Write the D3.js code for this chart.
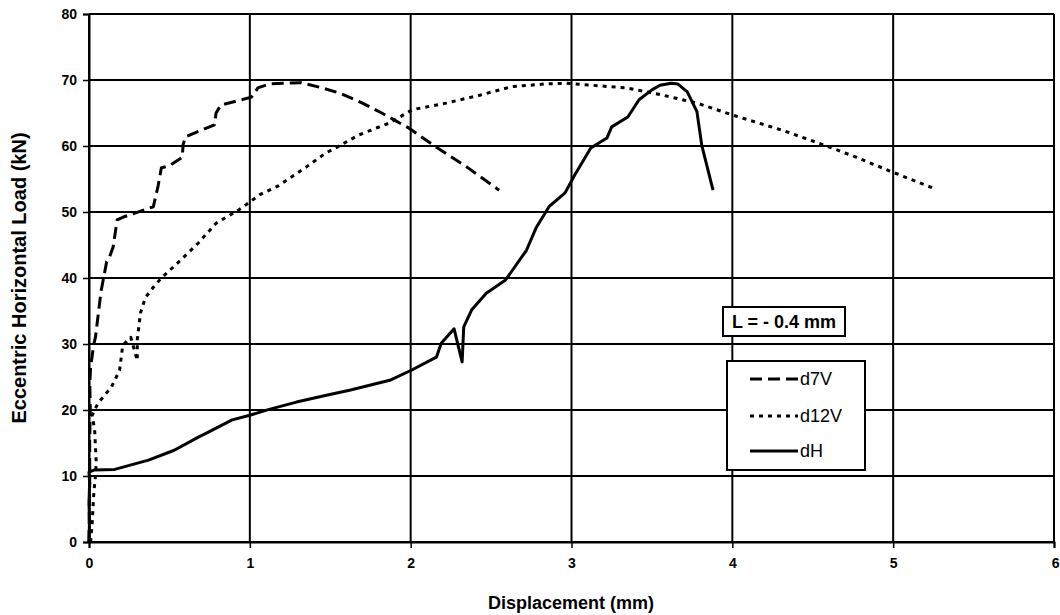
<!DOCTYPE html>
<html><head><meta charset="utf-8">
<script src="https://cdn.jsdelivr.net/npm/d3@7"></script>
<style>body{margin:0;background:#fff;}svg{display:block;}text{font-family:"Liberation Sans",Arial,sans-serif;}</style>
</head><body>
<svg id="c" width="1060" height="615"></svg>
<script>
const xTicks = [0,1,2,3,4,5,6];
const yTicks = [0,10,20,30,40,50,60,70,80];

const d7V = [[0,0],[0.002,5],[0.005,10],[0.004,15],[0.008,20],[0.005,24],[0.01,26.5],[0.03,30],[0.04,31],[0.06,35],[0.075,38],[0.11,42.5],[0.125,43],[0.15,44.7],[0.175,48.8],[0.21,49.2],[0.4,50.8],[0.43,54],[0.45,56.7],[0.5,57],[0.58,58.3],[0.585,60.2],[0.6,61.4],[0.78,63.2],[0.79,65],[0.82,66.2],[1.01,67.4],[1.05,68.8],[1.12,69.4],[1.32,69.6],[1.45,68.8],[1.56,68],[1.7,66.5],[1.82,65],[1.99,62.7],[2.16,59.8],[2.35,56.8],[2.55,53.3]];

const d12V = [[0.01,0],[0.02,3],[0.03,7.4],[0.04,10],[0.045,12],[0.035,17],[0.02,19.2],[0.055,21],[0.14,23.5],[0.17,25],[0.19,26],[0.21,29.8],[0.26,31],[0.3,27.5],[0.3,30.6],[0.32,34.7],[0.35,37],[0.4,38.6],[0.45,40],[0.57,42.7],[0.68,45.3],[0.79,48.3],[0.93,50.3],[1.0,51.5],[1.06,52.6],[1.18,54],[1.35,56.8],[1.47,58.9],[1.54,59.8],[1.68,61.7],[1.87,63.5],[2.01,65.5],[2.22,66.5],[2.43,67.7],[2.63,69],[2.84,69.4],[2.97,69.5],[3.13,69.2],[3.34,68.8],[3.55,67.8],[3.78,66.5],[4.0,64.7],[4.31,62.4],[4.62,59.7],[4.77,58.3],[4.98,56.2],[5.25,53.6]];

const dH = [[0,0],[0.003,3],[0.0,6],[0.004,9],[0.0,10.6],[0.03,10.9],[0.16,11],[0.37,12.4],[0.53,13.9],[0.68,15.9],[0.73,16.5],[0.89,18.5],[1.0,19.2],[1.12,20.1],[1.29,21.2],[1.49,22.3],[1.62,23],[1.87,24.5],[2.01,26.1],[2.16,28],[2.19,30.1],[2.27,32.3],[2.32,27.3],[2.33,32.6],[2.38,35.2],[2.47,37.7],[2.59,39.7],[2.72,44.2],[2.78,47.6],[2.86,50.8],[2.96,52.9],[3.02,55.6],[3.12,59.7],[3.22,61.2],[3.25,62.9],[3.35,64.4],[3.42,67],[3.5,68.5],[3.55,69.2],[3.62,69.5],[3.66,69.4],[3.72,68.2],[3.78,65.2],[3.81,60.1],[3.88,53.3]];

const seriesNames = ["d7V","d12V","dH"];
const seriesData = [d7V, d12V, dH];
const dashes = ["12,6","4,5",null];

const svg = d3.select("#c");
const L = 89, R = 1054, T = 14, B = 542;
const x = d3.scaleLinear().domain([0,6]).range([L,R]);
const y = d3.scaleLinear().domain([0,80]).range([B,T]);

// gridlines
svg.append("g").selectAll("line").data(yTicks).join("line")
  .attr("x1",L).attr("x2",R).attr("y1",d=>y(d)).attr("y2",d=>y(d))
  .attr("stroke","#000").attr("stroke-width",2);
svg.append("g").selectAll("line").data(xTicks).join("line")
  .attr("y1",T).attr("y2",B).attr("x1",d=>x(d)).attr("x2",d=>x(d))
  .attr("stroke","#000").attr("stroke-width",2);

// axes
const yAxis = d3.axisLeft(y).tickValues(yTicks).tickFormat(d3.format("d")).tickSize(6).tickPadding(6);
const gy = svg.append("g").attr("transform",`translate(${L},0)`).call(yAxis);
const xAxis = d3.axisBottom(x).tickValues(xTicks).tickFormat(d3.format("d")).tickSize(6).tickPadding(10);
const gx = svg.append("g").attr("transform",`translate(0,${B})`).call(xAxis);
[gx,gy].forEach(g=>{
  g.attr("font-size",null).attr("font-family",null);
  g.select(".domain").attr("stroke","#000").attr("stroke-width",2);
  g.selectAll(".tick line").attr("stroke","#000").attr("stroke-width",1.5);
  g.selectAll("text").style("font-size","14px").style("font-weight","bold").attr("fill","#000")
    .style("font-family","'Liberation Sans',Arial,sans-serif");
});
gx.selectAll(".tick").filter(d=>d===6).select("text").attr("text-anchor","end").attr("dx","5");

// lines
const line = d3.line().x(d=>x(d[0])).y(d=>y(d[1]));
seriesData.forEach((data,i)=>{
  svg.append("path").datum(data).attr("d",line)
    .attr("fill","none").attr("stroke","#000").attr("stroke-width",3)
    .attr("stroke-linejoin","round")
    .attr("stroke-dasharray",dashes[i]);
});

// annotation box
const ann = svg.append("g");
ann.append("rect").attr("x",723).attr("y",307).attr("width",122).attr("height",29)
  .attr("fill","#fff").attr("stroke","#000").attr("stroke-width",2);
ann.append("text").attr("x",784).attr("y",328).attr("text-anchor","middle")
  .style("font-size","18px").attr("font-weight","bold").text("L = - 0.4 mm");

// legend
const lg = svg.append("g");
lg.append("rect").attr("x",727).attr("y",361).attr("width",138).attr("height",109)
  .attr("fill","#fff").attr("stroke","#000").attr("stroke-width",2);
const ly = [379,416,451];
seriesNames.forEach((n,i)=>{
  lg.append("line").attr("x1",750).attr("x2",798).attr("y1",ly[i]).attr("y2",ly[i])
    .attr("stroke","#000").attr("stroke-width",3).attr("stroke-dasharray",dashes[i]);
  lg.append("text").attr("x",800).attr("y",ly[i]+6).style("font-size","18px").text(n);
});

// axis titles
svg.append("text").attr("x",571).attr("y",609).attr("text-anchor","middle")
  .style("font-size","18px").attr("font-weight","bold").text("Displacement (mm)");
svg.append("text").attr("transform","translate(26,278) rotate(-90)").attr("text-anchor","middle")
  .style("font-size","20px").attr("font-weight","bold").text("Eccentric Horizontal Load (kN)");
</script>
</body></html>
